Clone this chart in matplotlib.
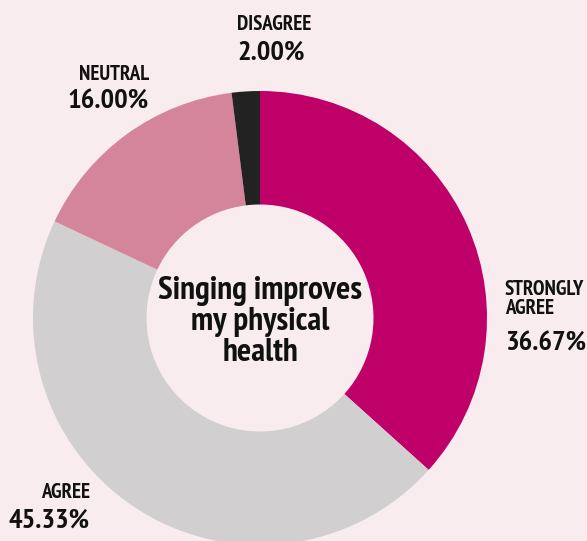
import matplotlib
matplotlib.use("Agg")
import matplotlib.pyplot as plt

categories = ["STRONGLY\nAGREE", "AGREE", "NEUTRAL", "DISAGREE"]
values = [36.67, 45.33, 16.00, 2.00]
pct_labels = ["36.67%", "45.33%", "16.00%", "2.00%"]
colors = ["#BE0068", "#D1CFCF", "#D4859C", "#222222"]
center_title = "Singing improves\nmy physical\nhealth"

bg = "#F8ECEE"
fam = ["PT Sans Narrow", "DejaVu Sans"]

W, H = 587, 541
fig = plt.figure(figsize=(W / 100, H / 100), dpi=100, facecolor=bg)
ax = fig.add_axes([0, 0, 1, 1])
ax.set_facecolor(bg)

cx, cy, R = 260, H - 318, 227
ax.pie(values, colors=colors, startangle=90, counterclock=False,
       center=(cx, cy), radius=R, frame=True,
       wedgeprops=dict(width=R * 0.5, linewidth=0))
ax.set_xlim(0, W)
ax.set_ylim(0, H)
ax.set_aspect("equal")
ax.axis("off")

def lab(x, ycat, ypct, cat, pct, ha):
    ax.text(x, H - ycat, cat, ha=ha, va="center", fontsize=15,
            fontweight="bold", family=fam, color="#111111", linespacing=1.05)
    ax.text(x, H - ypct, pct, ha=ha, va="center", fontsize=20.5,
            fontweight="bold", family=fam, color="#111111")

lab(505, 299, 344, categories[0], pct_labels[0], "left")
lab(90, 493, 521, categories[1], pct_labels[1], "right")
lab(149, 74, 102, categories[2], pct_labels[2], "right")
lab(237, 24, 53, categories[3], pct_labels[3], "left")

ax.text(cx, H - 322, center_title, ha="center", va="center", fontsize=24,
        fontweight="bold", family=fam, color="#111111", linespacing=1.06)

fig.savefig("out.png", dpi=100, facecolor=bg)
